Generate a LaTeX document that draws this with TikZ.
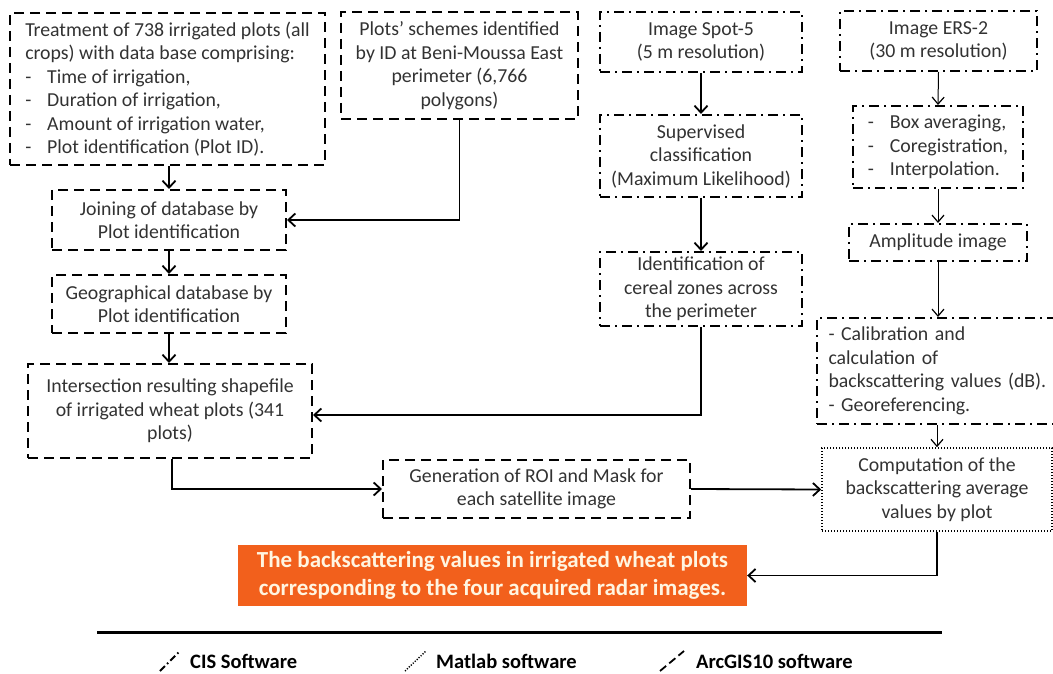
\documentclass[tikz,border=0pt]{standalone}
\usepackage{fontspec}
\setmainfont{Carlito}
\usetikzlibrary{arrows.meta}
\definecolor{txt}{RGB}{50,50,50}
\definecolor{orangefill}{RGB}{242,96,28}
\definecolor{resulttxt}{RGB}{255,245,225}
\tikzset{
  base/.style={draw=black, inner sep=0pt, text=txt, font=\fontsize{19.8}{23.5}\selectfont, align=center},
  arcgis/.style={base, line width=2pt, dash pattern=on 10pt off 6pt},
  cis/.style={base, line width=2pt, dash pattern=on 10pt off 5pt on 2pt off 5pt},
  matlab/.style={base, line width=1.6pt, dash pattern=on 1.4pt off 1.6pt},
  result/.style={fill=orangefill, inner sep=0pt, text=resulttxt, font=\fontsize{23}{28}\selectfont\bfseries, align=center},
  arr/.style={line width=1.8pt, -{Straight Barb[length=7pt,width=13pt,line width=1.8pt]}},
  arrthin/.style={line width=1pt, -{Straight Barb[length=7pt,width=12pt,line width=1.2pt]}},
  legendtxt/.style={inner sep=0pt, anchor=west, text=black, font=\fontsize{20.5}{22}\selectfont\bfseries},
}
\begin{document}
\begin{tikzpicture}[x=1pt, y=-1pt]
\useasboundingbox (0,0) rectangle (1053,674);
\begin{scope}
\clip (0,0) rectangle (1053,674);
% ArcGIS boxes
\node[arcgis, minimum width=315pt, minimum height=152pt, align=left] (treat) at (167.5,89)
  {Treatment of 738 irrigated plots (all\\
   crops) with data base comprising:\\
   \makebox[22pt][l]{-}Time of irrigation,\\
   \makebox[22pt][l]{-}Duration of irrigation,\\
   \makebox[22pt][l]{-}Amount of irrigation water,\\
   \makebox[22pt][l]{-}Plot identification (Plot ID).};
\node[arcgis, minimum width=237pt, minimum height=107pt] (scheme) at (459.5,65.5)
  {Plots’ schemes identified\\ by ID at Beni-Moussa East\\ perimeter (6,766\\ polygons)};
\node[arcgis, minimum width=234pt, minimum height=60pt] (join) at (169,220)
  {Joining of database by\\ Plot identification};
\node[arcgis, minimum width=234pt, minimum height=58pt] (geo) at (169,304)
  {Geographical database by\\ Plot identification};
\node[arcgis, minimum width=284pt, minimum height=94pt] (inter) at (170,411)
  {Intersection resulting shapefile\\ of irrigated wheat plots (341\\ plots)};
\node[arcgis, minimum width=307pt, minimum height=58pt] (gen) at (536.5,489)
  {Generation of ROI and Mask for\\ each satellite image};
% CIS boxes
\node[cis, minimum width=202pt, minimum height=60pt] (spot) at (701,42)
  {Image Spot-5\\ (5 m resolution)};
\node[cis, minimum width=197pt, minimum height=60pt] (ers) at (938.5,41)
  {Image ERS-2\\ (30 m resolution)};
\node[cis, minimum width=202pt, minimum height=82pt] (sup) at (701,156)
  {Supervised\\ classification\\ (Maximum Likelihood)};
\node[cis, minimum width=170pt, minimum height=82pt, align=left] (boxavg) at (938,147)
  {\makebox[22pt][l]{-}Box averaging,\\ \makebox[22pt][l]{-}Coregistration,\\ \makebox[22pt][l]{-}Interpolation.};
\node[cis, minimum width=178pt, minimum height=37pt] (ampl) at (938,242.5)
  {Amplitude image};
\node[cis, minimum width=202pt, minimum height=74pt] (ident) at (701,289)
  {Identification of\\ cereal zones across\\ the perimeter};
\node[cis, minimum width=243pt, minimum height=106pt, text width=220pt, align=left] (calib) at (938.5,371)
  {- Calibration and\\ calculation of\\ backscattering values (dB).\\ - Georeferencing.};
% Matlab box
\node[matlab, minimum width=230pt, minimum height=83pt] (comp) at (937,489.5)
  {Computation of the\\ backscattering average\\ values by plot};
% Result
\node[result, minimum width=509pt, minimum height=61pt] (res) at (492.5,575.5)
  {The backscattering values in irrigated wheat plots\\ corresponding to the four acquired radar images.};
% Connectors
\draw[arr] (join.north |- treat.south) -- (join.north);
\draw[arr] (scheme.south) |- (join.east);
\draw[arr] (join.south) -- (geo.north);
\draw[arr] (geo.south) -- (inter.north -| geo.south);
\draw[arr] (spot.south) -- (sup.north);
\draw[arr] (sup.south) -- (ident.north);
\draw[arr] (ident.south) |- ([yshift=-4pt]inter.east);
\draw[arr] ([xshift=2pt]inter.south) |- (gen.west);
\draw[arr] (gen.east) -- (comp.west);
\draw[arr, line width=1.4pt] (comp.south) |- (res.east);
\draw[arrthin] (ers.south) -- (boxavg.north);
\draw[arrthin] (boxavg.south) -- (ampl.north);
\draw[arrthin] (ampl.south) -- (calib.north -| ampl.south);
\draw[arrthin] (calib.south -| comp.north) -- (comp.north);
% Legend
\coordinate (la) at (97,632);
\coordinate (lb) at (942,632);
\draw[line width=3pt] (la) -- (lb);
\coordinate (c1) at (160,671); \coordinate (c2) at (180,651);
\draw[line width=1.8pt, dash pattern=on 7pt off 3pt on 1.5pt off 3pt] (c1) -- (c2);
\node[legendtxt] (lcis) at (190,661) {CIS Software};
\coordinate (m1) at (405,671); \coordinate (m2) at (426,651);
\draw[line width=1.4pt, dash pattern=on 1.2pt off 1.5pt] (m1) -- (m2);
\node[legendtxt] (lmat) at (436,661) {Matlab software};
\coordinate (a1) at (660,671); \coordinate (a2) at (684,651);
\draw[line width=1.8pt, dash pattern=on 8pt off 4pt] (a1) -- (a2);
\node[legendtxt] (larc) at (696,661) {ArcGIS10 software};
\end{scope}
\end{tikzpicture}
\end{document}
